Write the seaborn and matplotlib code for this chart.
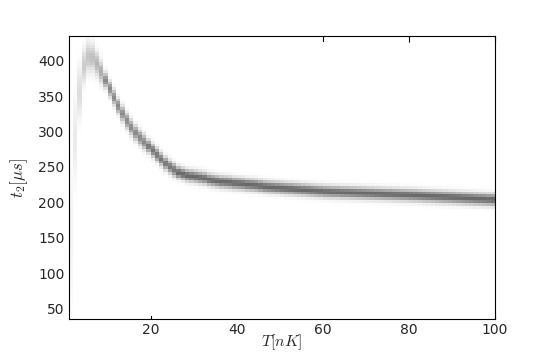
import numpy as np
import pandas as pd
import seaborn as sns
import matplotlib.pyplot as plt

# T bin centres [nK] and the t2 ridge
temp_nk = np.arange(1.5, 100, 1.0)
t2_center = [
    160, 290, 355, 392, 405, 404, 395, 384, 372, 360,
    348, 336, 325, 315, 306, 298, 291, 285, 279, 273,
    267, 261, 255, 250, 246, 242, 240, 238, 237, 236,
    235, 234, 232, 231, 230, 229, 228.5, 228, 227, 226.5,
    226, 225, 224.5, 224, 223, 222, 221.5, 221, 220.5, 220,
    219.5, 219, 218.5, 218, 217.5, 217, 216.5, 216, 215.5, 215,
    214.8, 214.5, 214.3, 214, 213.8, 213.5, 213.3, 213, 212.8, 212.5,
    212.3, 212, 211.8, 211.5, 211.3, 211, 210.8, 210.5, 210.3, 210,
    209.7, 209.4, 209, 208.7, 208.4, 208, 207.7, 207.4, 207, 206.7,
    206.4, 206, 205.7, 205.4, 205, 204.7, 204.4, 204, 203.7,
]
# spread of the band around the ridge [us]
t2_spread = [70, 40, 24, 16, 14, 13, 11, 10] + [7] * 10 + [6] * 7 + [5.5] * 74

t_edges = np.linspace(1, 100, 100)
t2_edges = np.linspace(36, 434, 101)
t2_mid = 0.5 * (t2_edges[:-1] + t2_edges[1:])

# long table: one row per histogram cell
rows = []
for t, c, s in zip(temp_nk, t2_center, t2_spread):
    w = np.exp(-0.5 * ((t2_mid - c) / s) ** 2) / s
    rows.append(pd.DataFrame({"T": t, "t2": t2_mid, "w": w}))
df = pd.concat(rows, ignore_index=True)

sns.set_style("ticks", {"xtick.direction": "in", "ytick.direction": "in",
                        "axes.edgecolor": "black"})
plt.rcParams["mathtext.fontset"] = "cm"

fig = plt.figure(figsize=(5.5, 3.54), dpi=100)
ax = fig.add_axes([0.125, 0.1, 0.775, 0.797])
sns.histplot(data=df, x="T", y="t2", weights="w", bins=[t_edges, t2_edges],
             cmap="gray_r", vmin=0, vmax=df["w"].max() * 1.7, ax=ax)

ax.set_xlim(1, 100)
ax.set_ylim(36, 434)
ax.set_xticks([20, 40, 60, 80, 100])
ax.set_yticks([50, 100, 150, 200, 250, 300, 350, 400])
ax.tick_params(top=True, right=True, length=4, labelsize=10, color="black", pad=3)
ax.set_xlabel(r"$T[nK]$", fontsize=11.5, labelpad=-3)
ax.set_ylabel(r"$t_2[\mu s]$", fontsize=12, labelpad=6)

fig.savefig("out.png", dpi=100)
